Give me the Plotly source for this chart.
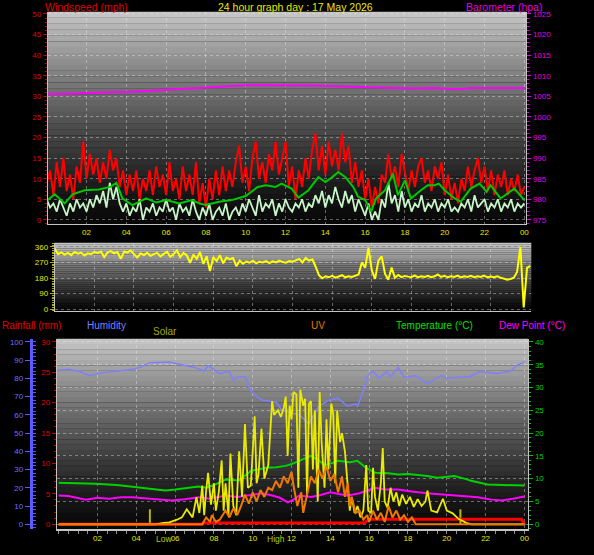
import plotly.graph_objects as go

# ---------------------------------------------------------------- data
hour_ticks = [2, 4, 6, 8, 10, 12, 14, 16, 18, 20, 22, 24]
hour_labels = ["02", "04", "06", "08", "10", "12", "14", "16", "18", "20", "22", "00"]

# 10-minute samples, 00:00 .. 24:00
wind_times = [i / 6 for i in range(145)]

wind_gust = [
    9, 12, 6, 14, 8, 15, 7, 11, 5, 13, 9, 19,
    10, 16, 11, 15, 9, 14, 10, 17, 12, 15, 8, 12,
    6, 11, 7, 12, 5, 10, 7, 12, 6, 13, 8, 11,
    6, 14, 7, 10, 5, 13, 7, 11, 6, 14, 4, 9,
    3, 10, 5, 12, 6, 13, 7, 12, 8, 14, 18, 9,
    13, 7, 15, 19, 10, 14, 9, 16, 12, 19, 11, 15,
    19, 8, 13, 5, 12, 8, 15, 10, 17, 21, 12, 18,
    11, 19, 13, 17, 12, 21, 14, 18, 9, 14, 8, 12,
    5, 10, 3, 8, 4, 11, 9, 16, 10, 13, 8, 16,
    11, 7, 12, 8, 13, 15, 9, 12, 7, 13, 10, 14,
    6, 11, 5, 9, 4, 10, 7, 13, 8, 12, 15, 9,
    13, 7, 12, 6, 11, 8, 12, 6, 10, 7, 11, 6,
    8,
]

wind_speed = [
    5, 3, 4, 2, 5, 3, 1, 4, 2, 5, 3, 4,
    2, 5, 3, 6, 4, 7, 3, 9, 5, 8, 4, 2,
    4, 1, 3, 2, 5, 0, 3, 2, 4, 1, 3, 2,
    5, 2, 3, 0, 4, 2, 3, 1, 5, 2, 0, 3,
    1, 4, 0, 2, 3, 1, 4, 0, 2, 3, 1, 4,
    2, 5, 3, 1, 6, 2, 4, 3, 5, 1, 4, 2,
    5, 3, 2, 4, 3, 5, 2, 4, 3, 6, 4, 7,
    3, 6, 4, 8, 5, 3, 7, 4, 6, 2, 5, 3,
    1, 4, 0, 2, 0, 5, 3, 9, 4, 6, 2, 7,
    3, 5, 2, 4, 3, 6, 2, 4, 3, 5, 2, 4,
    3, 5, 2, 3, 2, 4, 3, 5, 2, 6, 3, 4,
    5, 2, 4, 3, 5, 2, 4, 3, 5, 2, 4, 3,
    4,
]

avg_times = [0.05, 0.4, 0.9, 1.3, 1.9, 2.6, 3.2, 3.5, 3.8, 4.3, 5.0, 5.5, 6.0,
             6.65, 7.3, 7.65, 8.0, 8.65, 9.3, 10.0, 10.6, 11.0, 11.5, 11.8, 12.3,
             12.65, 13.15, 13.65, 14.0, 14.3, 14.65, 15.0, 15.4, 15.65, 16.0,
             16.3, 16.55, 17.0, 17.4, 17.65, 18.0, 18.3, 18.8, 19.15, 19.5, 19.7,
             20.0, 20.5, 20.8, 21.3, 21.75, 22.1, 22.3, 22.8, 23.5, 24.0]
avg_wind = [4.8, 6.2, 4.0, 6.2, 7.2, 7.4, 8.0, 9.0, 5.2, 3.6, 5.2, 4.2, 4.8,
            4.0, 4.8, 4.0, 3.6, 4.4, 4.8, 5.8, 8.0, 8.4, 8.0, 8.8, 7.6,
            5.4, 7.2, 10.4, 9.2, 10.2, 11.6, 10.4, 8.0, 5.6, 4.8,
            2.0, 5.2, 7.2, 11.2, 6.0, 9.6, 5.2, 7.2, 8.4, 8.4, 8.8,
            7.2, 5.2, 4.4, 7.6, 8.8, 6.8, 8.4, 5.2, 7.6, 4.8]

baro_times = [0.05, 1, 2, 3.8, 4.2, 5, 6, 7, 8, 9, 10, 11, 12.5, 13.5, 14.8,
              15.8, 16, 17.5, 18.5, 19.3, 20, 20.8, 21.3, 22.5, 23.5, 24.05]
barometer = [1005.5, 1005.6, 1005.8, 1005.9, 1006.1, 1006.3, 1006.6, 1006.8,
             1007.2, 1007.5, 1007.7, 1007.7, 1007.7, 1007.6, 1007.4, 1007.3,
             1007.2, 1007.0, 1006.9, 1007.0, 1006.8, 1006.7, 1007.0, 1007.0,
             1007.1, 1007.0]

wind_dir = [
    350, 318, 328, 315, 325, 312, 330, 320, 326, 310, 322, 318,
    330, 325, 333, 300, 328, 335, 322, 330, 290, 332, 328, 338,
    318, 298, 322, 312, 325, 308, 318, 325, 305, 320, 332, 302,
    318, 340, 300, 325, 310, 268, 315, 290, 330, 262, 305, 220,
    300, 278, 312, 265, 298, 288, 295, 248, 280, 262, 275, 268,
    280, 265, 274, 270, 278, 266, 276, 270, 280, 272, 268, 278,
    274, 282, 290, 270, 296, 280, 288, 245, 196, 178, 190, 184,
    192, 182, 188, 196, 184, 190, 186, 194, 200, 270, 240, 354,
    225, 175, 280, 305, 205, 170, 240, 182, 198, 185, 192, 188,
    185, 195, 184, 190, 186, 192, 185, 190, 200, 186, 192, 184,
    190, 186, 194, 184, 190, 186, 192, 185, 190, 186, 194, 184,
    188, 185, 190, 182, 178, 170, 174, 182, 215, 360, 10, 238,
    250,
]

hum_times = [0, 0.5, 1.0, 1.6, 2.2, 3.0, 3.8, 4.2, 4.7, 5.7, 6.2, 7.0, 7.5, 7.7,
             8.3, 8.8, 9.0, 9.3, 9.6, 9.9, 10.2, 10.5, 11.2, 11.5, 12.0, 12.4,
             12.9, 13.4, 13.9, 14.4, 14.9, 15.3, 15.4, 15.7, 15.9, 16.2, 16.5,
             16.9, 17.1, 17.5, 17.8, 18.4, 19.0, 19.7, 20.0, 20.5, 21.2, 21.7,
             22.6, 23.3, 23.6, 24.0]
humidity = [84.5, 85, 84, 81.5, 83, 84, 85, 86, 88.6, 89, 88, 86, 84, 87,
            82.6, 83.7, 79, 81, 81, 73, 70, 68, 67, 62.5, 61, 60,
            55, 64.7, 68, 69, 64.7, 66, 64.7, 73, 81, 84, 80,
            83.7, 81, 86, 80.5, 81.5, 77, 81.5, 80, 80.5, 81, 83.7,
            82.6, 84, 87, 89]

temp_times = [0, 1.0, 1.9, 3.0, 3.8, 4.6, 5.5, 6.0, 6.6, 7.2, 7.6, 8.0, 8.6, 9.3,
              9.9, 10.3, 10.7, 11.2, 11.7, 12.0, 12.4, 12.7, 13.0, 13.4, 13.7,
              14.0, 14.4, 15.0, 15.4, 15.8, 16.3, 17.0, 17.5, 18.0, 18.4, 19.0,
              19.5, 20.0, 20.4, 21.0, 21.2, 22.1, 23.0, 24.0]
temperature = [9.1, 9.0, 8.9, 8.6, 8.2, 7.8, 7.4, 7.6, 8.0, 8.3, 8.0, 8.6, 9.8, 9.6,
               11.7, 12.0, 12.4, 12.5, 12.8, 13.2, 13.9, 14.6, 15.0, 14.0, 13.0,
               13.3, 13.9, 13.6, 13.9, 12.5, 11.3, 11.2, 10.9, 11.0, 10.9, 10.6,
               10.2, 10.5, 10.6, 9.9, 9.6, 8.7, 8.6, 8.5]

dew_times = [0, 0.5, 1.4, 2.0, 2.6, 3.2, 3.8, 4.5, 5.2, 5.8, 6.5, 7.2, 7.8, 8.6,
             9.2, 9.9, 10.5, 11.0, 11.4, 11.8, 12.1, 12.4, 13.0, 13.4, 14.0, 14.5,
             14.9, 15.5, 16.3, 16.8, 17.5, 18.0, 18.5, 19.3, 20.0, 20.8, 21.6,
             22.3, 22.8, 23.4, 24.0]
dew_point = [6.3, 6.2, 5.4, 5.8, 5.6, 5.9, 5.9, 5.6, 5.4, 5.2, 5.5, 5.9, 5.6, 6.3,
             6.0, 6.5, 6.8, 6.3, 5.8, 4.8, 5.4, 6.3, 6.0, 6.3, 7.0, 6.6,
             6.3, 6.8, 8.0, 7.6, 7.6, 7.3, 7.0, 6.7, 6.5, 6.2, 5.9,
             5.4, 5.2, 5.6, 6.1]

solar_times = [0, 5.0, 5.4, 5.7, 6.1, 6.35, 6.6, 6.9, 7.1, 7.25, 7.4, 7.5, 7.6, 7.7,
               7.85, 8.0, 8.1, 8.25, 8.4, 8.5, 8.6, 8.75, 8.85, 9.0, 9.15, 9.3,
               9.45, 9.6, 9.75, 9.9, 10.1, 10.2, 10.3, 10.45, 10.6, 10.8, 11.0,
               11.1, 11.3, 11.45, 11.6, 11.7, 11.8, 11.9, 12.0, 12.1, 12.25,
               12.35, 12.45, 12.6, 12.7, 12.8, 12.9, 13.0, 13.1, 13.2, 13.35,
               13.45, 13.55, 13.7, 13.8, 13.9, 14.05, 14.15, 14.25, 14.35, 14.5,
               14.6, 14.75, 14.9, 15.0, 15.1, 15.25, 15.4, 15.55, 15.7, 15.85,
               15.95, 16.1, 16.2, 16.3, 16.45, 16.6, 16.7, 16.8, 16.95, 17.1,
               17.25, 17.4, 17.55, 17.7, 17.9, 18.1, 18.3, 18.5, 18.7, 18.9,
               19.0, 19.2, 19.5, 19.8, 20.0, 20.3, 20.6, 21.0, 21.3, 24.0]
solar = [0, 0, 8, 10, 25, 38, 82, 38, 148, 62, 212, 50, 185, 282,
         108, 225, 75, 175, 350, 75, 225, 50, 388, 100, 50, 400,
         150, 550, 200, 212, 592, 225, 275, 525, 250, 325, 675,
         600, 625, 588, 638, 700, 375, 650, 575, 725, 712,
         200, 738, 650, 688, 150, 662, 675, 300, 625, 125,
         725, 450, 200, 575, 300, 662, 600, 225, 625, 450,
         500, 400, 175, 75, 150, 62, 100, 38, 75, 325,
         75, 62, 310, 150, 75, 225, 418, 125, 90, 200,
         125, 175, 100, 162, 112, 150, 95, 138, 100, 125,
         185, 75, 65, 140, 75, 60, 30, 8, 0, 0]

uv_times = [0, 7.4, 7.6, 7.8, 7.9, 8.1, 8.3, 8.6, 8.8, 9.0, 9.2, 9.4, 9.6, 9.8,
            10.0, 10.2, 10.4, 10.6, 10.8, 11.0, 11.2, 11.4, 11.6, 11.8, 12.0,
            12.1, 12.3, 12.5, 12.6, 12.8, 13.0, 13.2, 13.4, 13.6, 13.8, 14.0,
            14.2, 14.4, 14.6, 14.75, 14.9, 15.0, 15.1, 15.3, 15.5, 15.7, 15.9,
            16.0, 16.2, 16.4, 16.6, 16.8, 17.0, 17.2, 17.4, 17.6, 17.8, 18.0,
            18.2, 18.4, 24.0]
uv_index = [0, 0, 0.6, 0.2, 0.8, 0.2, 0.4, 1.2, 0.6, 1.4, 0.8, 1.6, 2.6, 1.8,
            2.8, 2.0, 3.0, 2.4, 3.2, 3.0, 3.8, 3.2, 4.2, 3.6, 4.6,
            3.4, 1.6, 2.8, 1.0, 2.6, 4.2, 3.6, 4.8, 4.0, 5.1, 3.8,
            4.4, 2.8, 4.2, 2.4, 3.6, 1.6, 2.4, 1.0, 1.2, 0.4, 0.8,
            0.2, 1.2, 0.4, 1.0, 0.2, 1.6, 0.6, 1.2, 0.4, 0.8, 0.2,
            0.6, 0, 0]

rain_times = [0, 7.4, 7.45, 15.75, 16.0, 23.85, 24.0]
rainfall = [0, 0, 0.2, 0.2, 0.8, 0.8, 0]

tide_marks = [4.7, 20.7]      # small marker bars in the lower panel (hours)
tide_mark_height = 3.3        # in degC units

# ---------------------------------------------------------------- style
_FONT = "Liberation Sans, Arial, sans-serif"
_GRID = "rgba(235,235,235,0.4)"
_FRAME = "#c4c4c4"
_YEL = "#e8e800"
W, H = 594, 555


def px_x(v):
    return v / W


def px_y(v):
    return 1 - v / H


def gradient(xref, yref, n=36, top=200, bottom=8, gamma=1.3):
    """Vertical light-to-dark fill behind a panel."""
    out = []
    for k in range(n):
        fm = (k + 0.5) / n
        v = int(bottom + (top - bottom) * (1 - fm) ** gamma)
        out.append(dict(
            type="rect", xref=xref, yref=yref, x0=0, x1=1,
            y0=1 - (k + 1) / n, y1=1 - k / n + 0.001,
            fillcolor=f"rgb({v},{v},{v})", line=dict(width=0), layer="below",
        ))
    return out


def line(x, y, color, width, xa, ya, shape="linear"):
    return go.Scatter(x=x, y=y, mode="lines", xaxis=xa, yaxis=ya,
                      line=dict(color=color, width=width, shape=shape),
                      hoverinfo="skip", showlegend=False)


fig = go.Figure()

# top panel
fig.add_trace(line(wind_times, wind_gust, "#ff0000", 2, "x", "y"))
fig.add_trace(line(wind_times, wind_speed, "#c8f5c8", 1.8, "x", "y"))
fig.add_trace(line(avg_times, avg_wind, "#00c800", 2, "x", "y"))
fig.add_trace(line(baro_times, barometer, "#ff00ff", 2, "x", "y2"))

# wind direction panel
fig.add_trace(line(wind_times, wind_dir, "#ffff00", 2, "x2", "y3"))

# lower panel
fig.add_trace(line(hum_times, humidity, "#7f7fff", 1.5, "x3", "y7"))
fig.add_trace(line(temp_times, temperature, "#00d200", 2, "x3", "y5"))
fig.add_trace(line(dew_times, dew_point, "#ff00ff", 2, "x3", "y5"))
fig.add_trace(line(uv_times, uv_index, "#f07800", 2, "x3", "y9"))
fig.add_trace(line(solar_times, solar, "#eaea00", 1.8, "x3", "y8"))
mx, my = [], []
for t in tide_marks:
    mx += [t, t, None]
    my += [0, tide_mark_height, None]
fig.add_trace(line(mx, my, "#b8b800", 2, "x3", "y5"))
fig.add_trace(line(rain_times, rainfall, "#ff0000", 3, "x3", "y6"))

tickf = dict(family=_FONT, size=8)
xcommon = dict(tickvals=hour_ticks, ticktext=hour_labels, ticks="",
               tickfont=dict(tickf, color=_YEL), showgrid=True, gridcolor=_GRID,
               griddash="dot", zeroline=False, showline=True, linecolor=_FRAME,
               linewidth=1)


def yax(color, tcolor, **kw):
    d = dict(tickfont=dict(tickf, color=color), ticks="outside", ticklen=4,
             tickcolor=tcolor, zeroline=False, showgrid=False,
             minor=dict(ticks="outside", ticklen=2, tickcolor=tcolor, showgrid=False))
    d.update(kw)
    return d


fig.update_layout(
    width=W, height=H,
    margin=dict(l=0, r=0, t=0, b=0),
    paper_bgcolor="#000000", plot_bgcolor="#000000",
    font=dict(family=_FONT, color="#cccccc"),
    showlegend=False,
    xaxis=dict(xcommon, domain=[px_x(48), px_x(529)], range=[0.05, 24.1], anchor="y"),
    yaxis=yax("#e00000", "#c00000", domain=[px_y(224), px_y(10)], range=[-1, 50.5],
              anchor="x", tick0=0, dtick=5, showgrid=True, gridcolor=_GRID,
              griddash="dot", showline=True, linecolor=_FRAME,
              minor=dict(ticks="outside", ticklen=2, tickcolor="#c00000",
                         dtick=1, tick0=0, showgrid=False)),
    yaxis2=yax("#e000e0", "#e000e0", overlaying="y", side="right", anchor="x",
               range=[974, 1025.5], tick0=975, dtick=5, showline=True,
               linecolor=_FRAME,
               minor=dict(ticks="outside", ticklen=2, tickcolor="#e000e0",
                          dtick=1, tick0=975, showgrid=False)),
    xaxis2=dict(xcommon, domain=[px_x(55), px_x(534)], range=[0, 24.05], anchor="y3",
                showticklabels=False),
    yaxis3=yax(_YEL, "#b0b000", domain=[px_y(312), px_y(243)], range=[-11.4, 383],
               anchor="x2", tick0=0, dtick=90, showgrid=True, gridcolor=_GRID,
               griddash="dot", showline=True, linecolor=_FRAME,
               minor=dict(ticks="outside", ticklen=2, tickcolor="#b0b000",
                          dtick=10, tick0=0, showgrid=False)),
    yaxis4=dict(overlaying="y3", side="right", anchor="x2", range=[-11.4, 383],
                tickvals=[0, 90, 180, 270, 360],
                ticktext=["N", "E", "S", "W", "N"], ticks="", showgrid=False,
                zeroline=False, ticklabelstandoff=14,
                tickfont=dict(family=_FONT, size=13, color=_YEL)),
    xaxis3=dict(xcommon, domain=[px_x(57), px_x(531)], range=[-0.1, 24.2], anchor="y5",
                linewidth=2,
                minor=dict(ticks="outside", ticklen=3, tickcolor="#909090",
                           dtick=0.5, tick0=0, showgrid=False)),
    yaxis5=yax("#00d000", "#00c000", domain=[px_y(532), px_y(340)], range=[-1.09, 40.65],
               side="right", anchor="x3", tick0=0, dtick=5, showgrid=True,
               gridcolor=_GRID, griddash="dot", showline=True, linecolor=_FRAME,
               minor=dict(ticks="outside", ticklen=2, tickcolor="#00c000",
                          dtick=1, tick0=0, showgrid=False)),
    yaxis6=yax("#e00000", "#c00000", overlaying="y5", side="left", anchor="x3",
               range=[-0.82, 30.49], tick0=0, dtick=5, showline=True,
               linecolor=_FRAME,
               minor=dict(ticks="outside", ticklen=2, tickcolor="#c00000",
                          dtick=1, tick0=0, showgrid=False)),
    yaxis7=yax("#6f6fff", "#5a5aff", overlaying="y5", side="left", anchor="free",
               position=px_x(31), range=[-2.7, 101.6], tick0=0, dtick=10,
               showline=True, linecolor="#5a5aff", linewidth=3, ticklen=5,
               minor=dict(ticks="inside", ticklen=3, tickcolor="#5a5aff",
                          dtick=2, tick0=0, showgrid=False)),
    yaxis8=dict(overlaying="y5", range=[-27, 1016], visible=False),
    yaxis9=dict(overlaying="y5", range=[-0.436, 16.26], visible=False),
)

shapes = gradient("x domain", "y domain") + gradient("x2 domain", "y3 domain") \
    + gradient("x3 domain", "y5 domain")
fig.update_layout(shapes=shapes)


def label(text, x, y, color, size=10, anchor="left", yref="paper", xref="paper"):
    fig.add_annotation(text=text, x=x, y=y, xref=xref, yref=yref,
                       xanchor=anchor, yanchor="middle", showarrow=False,
                       font=dict(family=_FONT, size=size, color=color))


label("Windspeed (mph)", px_x(43), px_y(5), "#e00000", 10.5)
label("24 hour graph day : 17 May 2026", 0.5, px_y(5), _YEL, 10.5, "center")
label("Barometer (hpa)", px_x(466), px_y(5), "#e000e0", 10.5)

label("Rainfall (mm)", px_x(0), px_y(326), "#e00000")
label("Humidity", px_x(85), px_y(326), "#7f7fff")
label("Solar", px_x(152), px_y(332), "#a8a800")
label("UV", px_x(311), px_y(326), "#e87800")
label("Temperature (°C)", px_x(396), px_y(326), "#00e000")
label("Dew Point (°C)", px_x(500), px_y(326), "#ff00ff")

label("Low", px_x(155), px_y(542), "#a8d000", 8.5)
label("High", px_x(266), px_y(542), "#a8d000", 8.5)

fig.write_html("out.html", config={"displayModeBar": False},
               post_script="document.body.style.margin='0';")
